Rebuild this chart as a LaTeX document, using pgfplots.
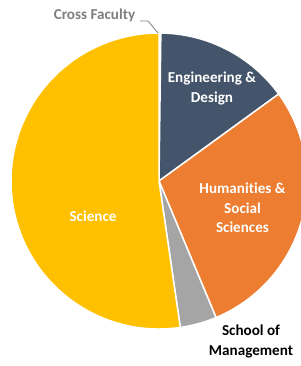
\documentclass[border=0pt]{standalone}
\usepackage{pgfplots}
\usepackage{pgfplotstable}
\pgfplotsset{compat=1.18}
\usepackage{fontspec}
\setmainfont{Carlito}[Ligatures={NoCommon}]
\definecolor{slice0}{HTML}{4472C4}
\definecolor{slice1}{HTML}{44546A}
\definecolor{slice2}{HTML}{ED7D31}
\definecolor{slice3}{HTML}{A5A5A5}
\definecolor{slice4}{HTML}{FFC000}
\definecolor{lblgray}{HTML}{7F7F7F}
\pgfplotstableread[col sep=comma]{
faculty,share
Cross Faculty,0.2
Engineering and Design,14.8
Humanities and Social Sciences,28.7
School of Management,4.0
Science,52.3
}\piedata
\begin{document}
\begin{tikzpicture}
\clip (0,0) rectangle (301bp,366bp);
\begin{axis}[
  at={(0,0)}, anchor=south west,
  hide axis, scale only axis,
  x=1bp, y=1bp,
  xmin=0, xmax=301, ymin=0, ymax=366,
  clip=false,
]
\pgfmathsetmacro\startang{90}
\pgfplotsforeachungrouped \i in {0,...,4}{
  \pgfplotstablegetelem{\i}{share}\of\piedata
  \pgfmathsetmacro\sweep{\pgfplotsretval*3.6}
  \pgfmathsetmacro\endang{\startang-\sweep}
  \edef\temp{\noexpand\fill[slice\i, draw=white, line width=1.5bp, line join=round] (axis cs:159,185) -- ++(\startang:148bp) arc[start angle=\startang, end angle=\endang, radius=148bp] -- cycle;}
  \temp
  \global\let\startang\endang
}
\node[text=white, font=\fontsize{15.2}{19.5}\selectfont\bfseries, align=center] at (axis cs:212,277.5) {Engineering \&\\Design};
\node[text=white, font=\fontsize{15.2}{19.5}\selectfont\bfseries, align=center] at (axis cs:242.5,158) {Humanities \&\\Social\\Sciences};
\node[text=white, font=\fontsize{15.2}{19.5}\selectfont\bfseries] at (axis cs:93,150) {Science};
\node[text=black, font=\fontsize{15.2}{19.5}\selectfont\bfseries, align=center] at (axis cs:251,24.5) {School of\\Management};
\node[text=lblgray, font=\fontsize{15.2}{19.5}\selectfont\bfseries] at (axis cs:94.5,351) {Cross Faculty};
\draw[lblgray, line width=0.8bp] (axis cs:140,345) -- (axis cs:148,345) -- (axis cs:158,333);
\end{axis}
\end{tikzpicture}
\end{document}
